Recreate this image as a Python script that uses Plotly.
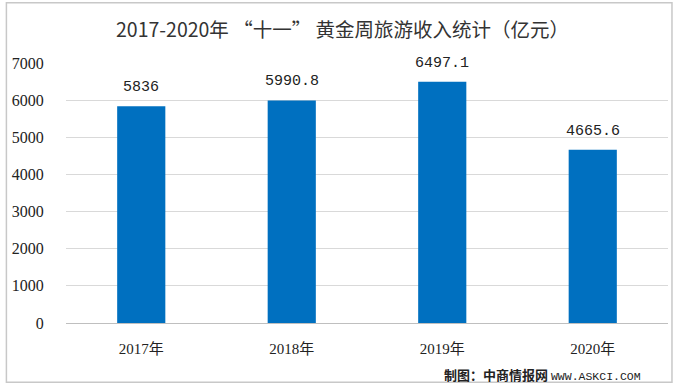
import plotly.graph_objects as go

categories = ["2017年", "2018年", "2019年", "2020年"]
values = [5836, 5990.8, 6497.1, 4665.6]
value_labels = ["5836", "5990.8", "6497.1", "4665.6"]
y_ticks = [0, 1000, 2000, 3000, 4000, 5000, 6000, 7000]

title_text = "2017-2020年 “十一” 黄金周旅游收入统计（亿元）"
source_text = ("<b>制图：中商情报网</b> "
               "<span style='font-family:Liberation Mono;font-size:11.5px'>WWW.ASKCI.COM</span>")

serif = "Liberation Serif, Noto Sans CJK SC"
mono = "Liberation Mono, Noto Sans CJK SC"

fig = go.Figure()
fig.add_trace(go.Bar(
    x=categories, y=values,
    marker=dict(color="#0070C0", line=dict(width=0)),
    width=0.32,
    hoverinfo="skip",
))

for c, v, t in zip(categories, values, value_labels):
    fig.add_annotation(x=c, y=v, text=t, showarrow=False, xref="x", yref="y",
                       yanchor="bottom", yshift=8,
                       font=dict(family=mono, size=15, color="#222222"))

fig.add_annotation(x=0.46, y=1.0, xref="paper", yref="paper", yanchor="middle",
                   yshift=35, text=title_text, showarrow=False,
                   font=dict(family="Noto Sans CJK SC", size=19.5, color="#333333"))

fig.add_annotation(x=1.0, y=0, xref="paper", yref="paper", xanchor="right",
                   yanchor="middle", yshift=-51, xshift=-25, text=source_text, showarrow=False,
                   font=dict(family="Noto Sans CJK SC", size=13, color="#222222"))

# outer frame
fig.add_shape(type="rect", xref="paper", yref="paper",
              x0=-0.099, x1=1.0066, y0=-0.228, y1=1.232,
              line=dict(color="#c8c8c8", width=1.5), fillcolor="rgba(0,0,0,0)")

fig.update_layout(
    width=680, height=391,
    margin=dict(l=63, r=12, t=63, b=68),
    paper_bgcolor="white", plot_bgcolor="white",
    showlegend=False,
    bargap=0.68,
    xaxis=dict(
        showgrid=False, zeroline=False, showline=False,
        ticks="outside", ticklen=12, tickcolor="rgba(0,0,0,0)",
        tickfont=dict(family=serif, size=15, color="#222222"),
    ),
    yaxis=dict(
        range=[0, 7000], tickvals=y_ticks,
        showgrid=True, gridcolor="#d9d9d9", gridwidth=1,
        zeroline=True, zerolinecolor="#bfbfbf", zerolinewidth=1,
        showline=False,
        ticks="outside", ticklen=18, tickcolor="rgba(0,0,0,0)",
        tickfont=dict(family=serif, size=16, color="#222222"),
    ),
)

fig.write_html("out.html", config={"displayModeBar": False},
               post_script="document.body.style.margin='0';document.body.style.overflow='hidden';")
